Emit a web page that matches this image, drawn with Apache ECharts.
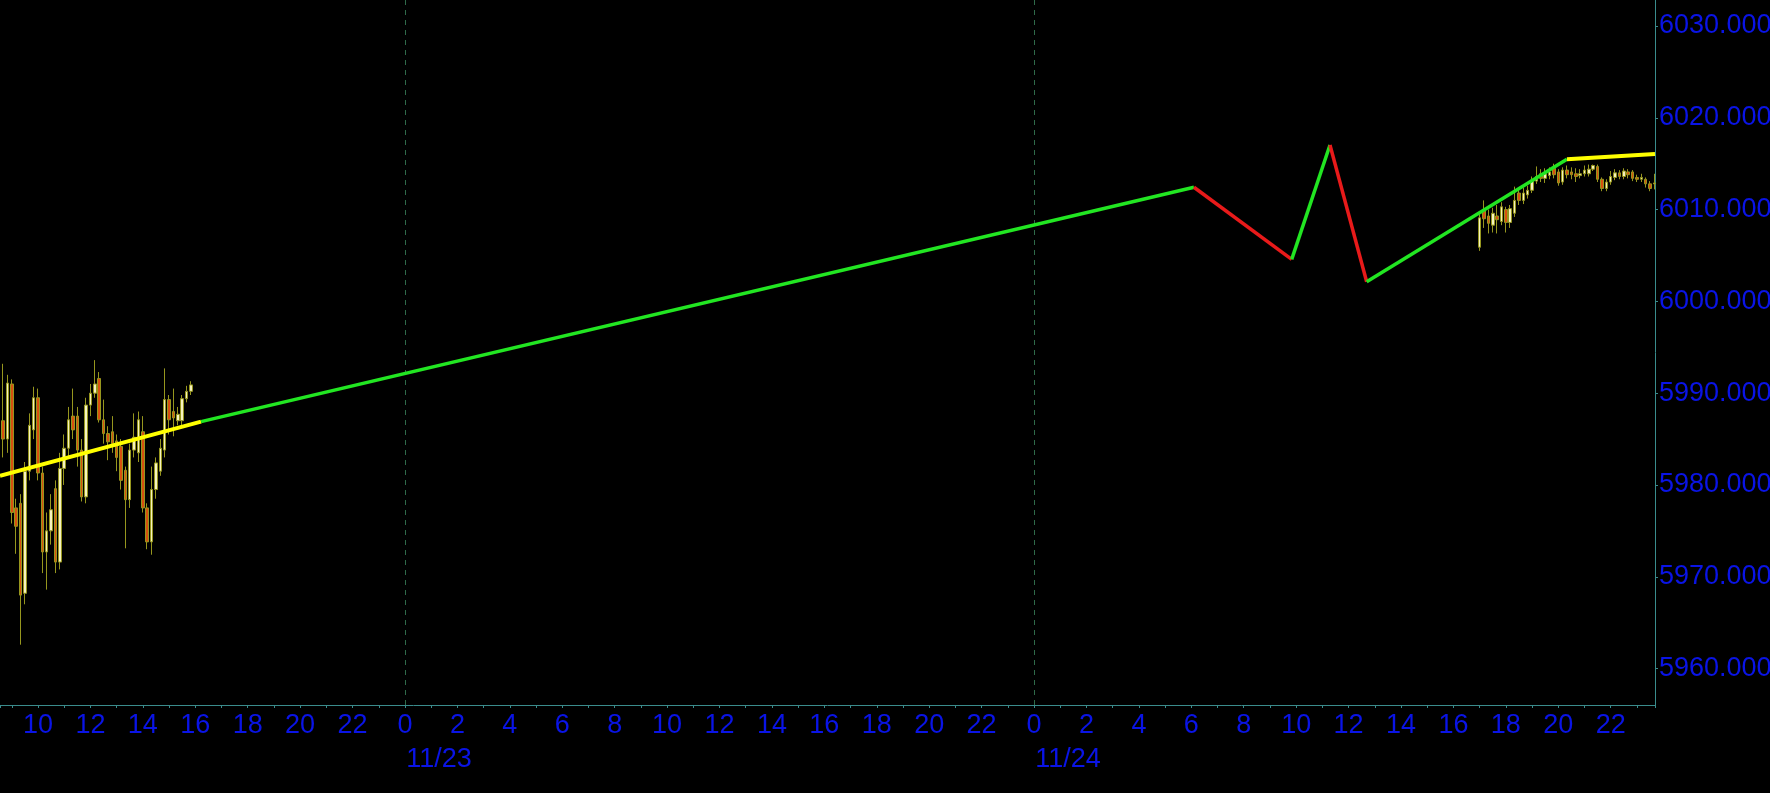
<!DOCTYPE html>
<html><head><meta charset="utf-8">
<script src="https://cdn.jsdelivr.net/npm/echarts@6/dist/echarts.min.js"></script>
<style>html,body{margin:0;padding:0;background:#000;}#c{width:1770px;height:793px;}</style>
</head><body><div id="c"></div>
<script>
// ---- data (time in hours from 11/22 00:00) ----
const dayLabels = ['11/22', '11/23', '11/24'];
const dayBoundaries = [24, 48];
const xMin = 8.55, xMax = 71.69;
const yMin = 5956.03, yMax = 6032.83;

const barStepHours = 1 / 6;          // 10-minute bars
const fridayStart = 8.5;             // 11/22 08:30
const sundayStart = 65;              // 11/24 17:00

// [open, close, low, high]
const fridayBars = [
  [5978.0,5987.0,5970.9,5989.5],[5987.0,5985.0,5983.0,5993.2],[5985.0,5991.1,5983.5,5992.0],
  [5991.0,5977.0,5975.8,5991.5],[5977.5,5975.5,5972.5,5978.5],[5978.0,5968.0,5962.6,5979.0],
  [5968.2,5981.5,5967.0,5982.5],[5981.5,5986.5,5980.5,5987.8],[5986.0,5989.5,5985.0,5990.7],
  [5989.5,5981.3,5980.5,5990.5],[5981.3,5972.7,5970.4,5982.0],[5972.7,5975.0,5968.6,5977.0],
  [5975.0,5977.3,5973.5,5979.0],[5979.6,5971.6,5970.4,5980.5],[5971.6,5981.8,5970.8,5983.5],
  [5981.8,5984.0,5980.0,5985.5],[5984.0,5987.1,5983.0,5988.5],[5987.5,5986.0,5985.0,5990.5],
  [5987.5,5983.8,5982.0,5988.5],[5983.8,5978.7,5978.2,5985.0],[5978.7,5988.7,5978.0,5989.5],
  [5988.7,5990.0,5987.5,5991.0],[5990.0,5991.0,5989.5,5993.6],[5991.6,5987.1,5986.8,5992.3],
  [5987.1,5985.6,5984.5,5989.3],[5985.6,5984.7,5982.7,5986.4],[5985.8,5984.5,5983.5,5987.5],
  [5984.8,5983.0,5981.5,5985.5],[5984.2,5980.5,5979.5,5985.0],[5981.6,5978.4,5973.1,5982.0],
  [5978.4,5983.8,5977.5,5984.5],[5983.8,5985.2,5983.0,5987.8],[5983.5,5987.1,5982.5,5988.0],
  [5985.8,5977.5,5977.0,5987.5],[5977.5,5973.8,5973.0,5978.0],[5973.8,5979.5,5972.4,5982.0],
  [5979.5,5982.4,5978.5,5983.0],[5981.5,5984.0,5981.0,5985.0],[5983.8,5989.3,5983.0,5992.7],
  [5989.3,5987.1,5985.5,5989.8],[5988.0,5987.3,5985.3,5990.5],[5987.0,5987.7,5986.5,5988.5],
  [5987.0,5989.4,5986.5,5989.8],[5989.4,5990.2,5989.0,5990.8],[5990.2,5990.9,5989.8,5991.3]
];
const sundayBars = [
  [6005.9,6009.1,6005.5,6009.5],[6009.9,6009.0,6008.0,6011.0],[6009.3,6008.5,6007.4,6010.0],
  [6008.3,6009.6,6007.5,6010.2],[6009.3,6008.9,6007.4,6010.5],[6008.7,6010.3,6008.3,6010.8],
  [6010.0,6008.6,6007.5,6010.3],[6008.6,6010.1,6008.0,6010.5],[6009.6,6011.0,6009.2,6012.5],
  [6011.8,6011.0,6010.5,6012.3],[6011.0,6011.8,6010.6,6012.4],[6011.6,6012.1,6011.2,6012.6],
  [6012.1,6013.2,6011.8,6013.6],[6013.1,6013.6,6012.8,6014.7],[6013.9,6013.4,6013.0,6014.4],
  [6013.4,6013.9,6012.9,6014.5],[6013.7,6014.1,6013.3,6014.6],[6014.5,6013.8,6013.4,6015.0],
  [6014.1,6012.9,6012.6,6014.4],[6013.0,6014.3,6012.7,6014.6],[6014.3,6013.8,6013.4,6014.8],
  [6014.1,6013.8,6013.3,6014.6],[6013.9,6013.6,6013.0,6014.5],[6013.7,6013.9,6013.4,6014.4],
  [6013.9,6014.3,6013.6,6014.8],[6013.9,6014.4,6013.6,6014.9],[6014.4,6014.8,6014.2,6014.9],
  [6014.7,6013.3,6013.0,6014.9],[6013.3,6012.3,6012.0,6013.5],[6012.3,6013.0,6012.0,6013.3],
  [6013.0,6013.6,6012.7,6014.2],[6013.5,6014.0,6013.2,6014.4],[6014.0,6013.6,6013.3,6014.3],
  [6013.6,6014.2,6013.3,6014.5],[6014.1,6013.8,6013.4,6014.4],[6014.1,6013.4,6013.1,6014.3],
  [6013.5,6013.3,6013.0,6013.8],[6013.3,6013.5,6013.0,6013.9],[6013.3,6012.8,6012.4,6013.5],
  [6012.8,6012.3,6012.0,6013.1],[6012.8,6012.9,6012.2,6013.9]
];

// zigzag / trend line vertices
const zigTimes  = [8.55, 16.22, 54.10, 57.83, 59.29, 60.69, 68.33, 71.69];
const zigValues = [5981.0, 5986.9, 6012.43, 6004.58, 6017.04, 6002.14, 6015.48, 6016.06];
const zigKinds  = ['flat', 'up', 'down', 'up', 'down', 'up', 'flat'];

// ---- styles ----
const AXIS = '#3a8c8c';
const LABEL = '#0a14e6';
const FONT = 'Liberation Sans';
const FS = 27;
const kindColor = { flat: '#ffff00', up: '#22e622', down: '#e81a1a' };

function barsToData(bars, start) {
  return bars.map((b, i) => [start + i * barStepHours, b[0], b[1], b[2], b[3]]);
}

const candleStyle = {
  color: '#f6f2c0', color0: '#d8500f',
  borderColor: '#96961e', borderColor0: '#96961e', borderWidth: 1
};

const series = [
  { type: 'candlestick', data: barsToData(fridayBars, fridayStart), barWidth: 3, itemStyle: candleStyle, z: 2, silent: true },
  { type: 'candlestick', data: barsToData(sundayBars, sundayStart), barWidth: 3, itemStyle: candleStyle, z: 2, silent: true }
];
for (let i = 0; i < zigKinds.length; i++) {
  const s = {
    type: 'line', showSymbol: false, silent: true, z: 5,
    data: [[zigTimes[i], zigValues[i]], [zigTimes[i + 1], zigValues[i + 1]]],
    lineStyle: { color: kindColor[zigKinds[i]], width: zigKinds[i] === 'flat' ? 4 : 3.5 }
  };
  if (i === 0) {
    s.markLine = {
      silent: true, symbol: ['none', 'none'], label: { show: false },
      lineStyle: { color: '#2f6a4a', type: [5, 5], width: 1 },
      data: dayBoundaries.map(d => ({ xAxis: d }))
    };
  }
  series.push(s);
}

const chart = echarts.init(document.getElementById('c'), null, { renderer: 'canvas' });
chart.setOption({
  backgroundColor: '#000000',
  animation: false,
  grid: { left: 0, right: 115, top: 0, bottom: 88, containLabel: false, outerBoundsMode: 'none' },
  xAxis: {
    type: 'value', min: xMin, max: xMax, splitNumber: 32, minInterval: 2, maxInterval: 2,
    axisLine: { show: true, lineStyle: { color: AXIS, width: 1 } },
    axisTick: { show: true, length: 3, lineStyle: { color: AXIS } },
    minorTick: { show: true, splitNumber: 2, length: 3, lineStyle: { color: AXIS } },
    splitLine: { show: false },
    axisLabel: {
      showMinLabel: false, showMaxLabel: false, margin: 4, color: LABEL,
      fontFamily: FONT, fontSize: FS,
      formatter: function (v) {
        const r = Math.round(v);
        if (Math.abs(v - r) > 1e-6) return '';
        const h = r % 24;
        if (h === 0) return '{h|0}\n{d|' + dayLabels[r / 24] + '}';
        return '{h|' + h + '}';
      },
      rich: {
        h: { color: LABEL, fontFamily: FONT, fontSize: FS, lineHeight: 34 },
        d: { color: LABEL, fontFamily: FONT, fontSize: FS, lineHeight: 34, padding: [0, 0, 0, 68] }
      }
    }
  },
  yAxis: {
    type: 'value', position: 'right', min: yMin, max: yMax, splitNumber: 8, minInterval: 10, maxInterval: 10,
    axisLine: { show: true, lineStyle: { color: AXIS, width: 1 } },
    axisTick: { show: true, length: 3, lineStyle: { color: AXIS } },
    splitLine: { show: false },
    axisLabel: {
      showMinLabel: false, showMaxLabel: false, margin: 4, color: LABEL,
      fontFamily: FONT, fontSize: FS,
      formatter: v => v.toFixed(3)
    }
  },
  series: series
});
</script>
</body></html>
